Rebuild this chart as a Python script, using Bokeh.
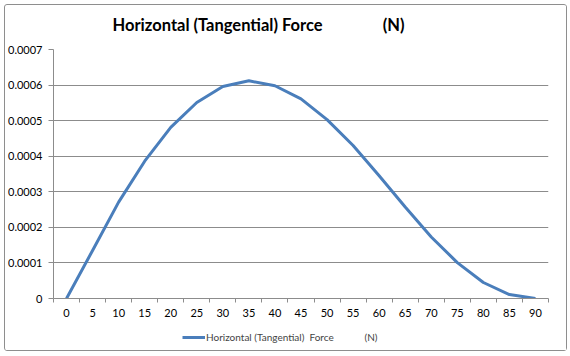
from bokeh.plotting import figure
from bokeh.models import FixedTicker, Legend, LegendItem, ColumnDataSource, Range1d, Label
from bokeh.layouts import column
from bokeh.embed import file_html
from bokeh.resources import INLINE

categories = ["0", "5", "10", "15", "20", "25", "30", "35", "40", "45",
              "50", "55", "60", "65", "70", "75", "80", "85", "90"]
force = [0.0, 0.000135, 0.000271, 0.000386, 0.000481, 0.000551, 0.000596,
         0.000612, 0.000598, 0.000561, 0.000503, 0.000430, 0.000345,
         0.000257, 0.000173, 0.000101, 0.000045, 0.000011, 0.0]
y_ticks = [0.0, 0.0001, 0.0002, 0.0003, 0.0004, 0.0005, 0.0006, 0.0007]
y_tick_labels = ["0", "0.0001", "0.0002", "0.0003", "0.0004", "0.0005", "0.0006", "0.0007"]
title_text = "Horizontal (Tangential) Force"
title_unit = "(N)"
legend_text = "Horizontal (Tangential)  Force            (N)"

NB = "\u00a0"
FONT = "Lato"
GRID = "#8c8c8c"
LINE = "#4A7EBB"
W = 561

idx = list(range(len(categories)))
src = ColumnDataSource(dict(x=idx, y=force))


def strip(height):
    f = figure(width=W, height=height, output_backend="svg", toolbar_location=None,
               x_range=Range1d(0, 1), y_range=Range1d(0, 1),
               x_axis_type=None, y_axis_type=None, min_border=0)
    f.outline_line_color = None
    f.background_fill_color = "white"
    f.border_fill_color = "white"
    return f


# title strip (its frame is aligned with the plot frame by the column layout)
ts = strip(34)
ts.add_layout(Label(x=59, y=15, x_units="screen", y_units="screen",
                    text=title_text + NB * 15 + title_unit,
                    text_font=FONT, text_font_style="bold", text_font_size="16.5px",
                    text_color="black", text_baseline="middle", text_align="left"))

# main plot
p = figure(width=W, height=285, output_backend="svg", toolbar_location=None,
           x_range=Range1d(-0.5, len(categories) - 0.5), y_range=Range1d(0, 0.0007),
           min_border_left=46, min_border_right=18, min_border_top=10, min_border_bottom=26)
p.outline_line_color = None
p.background_fill_color = "white"
p.border_fill_color = "white"

r = p.line("x", "y", source=src, line_color=LINE, line_width=3)

# x axis (category style: labels centred, ticks between categories)
xa = p.xaxis[0]
xa.ticker = FixedTicker(ticks=idx, minor_ticks=[i - 0.5 for i in range(len(categories) + 1)])
xa.major_label_overrides = {i: c for i, c in zip(idx, categories)}
xa.major_tick_line_color = None
xa.major_tick_out = 0
xa.major_tick_in = 0
xa.minor_tick_line_color = GRID
xa.minor_tick_out = 4
xa.minor_tick_in = 0
xa.axis_line_color = GRID
xa.major_label_standoff = 6
xa.major_label_text_font = FONT
xa.major_label_text_font_size = "11px"
xa.major_label_text_color = "black"

ya = p.yaxis[0]
ya.ticker = FixedTicker(ticks=y_ticks)
ya.major_label_overrides = {t: l for t, l in zip(y_ticks, y_tick_labels)}
ya.minor_tick_line_color = None
ya.major_tick_line_color = GRID
ya.major_tick_out = 5
ya.major_tick_in = 0
ya.axis_line_color = GRID
ya.major_label_standoff = 6
ya.major_label_text_font = FONT
ya.major_label_text_font_size = "11px"
ya.major_label_text_color = "black"

p.xgrid.grid_line_color = None
p.ygrid.grid_line_color = GRID
p.ygrid.ticker = FixedTicker(ticks=y_ticks)

# legend strip below the plot (series drawn out of view, only its legend shows)
lg = strip(26)
lg.y_range = Range1d(1, 2)
lr = lg.line("x", "y", source=src, line_color=LINE, line_width=3)

legend = Legend(items=[LegendItem(label=legend_text.replace(" ", NB), renderers=[lr])],
                orientation="horizontal", location=(129, 6),
                label_text_font=FONT, label_text_font_size="10px",
                glyph_width=23, glyph_height=14, label_height=14,
                padding=0, margin=0, border_line_color=None, background_fill_alpha=0,
                label_standoff=1)
lg.add_layout(legend, "center")

layout = column(ts, p, lg, spacing=0)
layout.styles = {"margin-left": "4px", "margin-top": "4px",
                 "border": "1px solid #8e8e8e", "border-radius": "3px"}

open("out.html", "w").write(file_html(layout, INLINE))
